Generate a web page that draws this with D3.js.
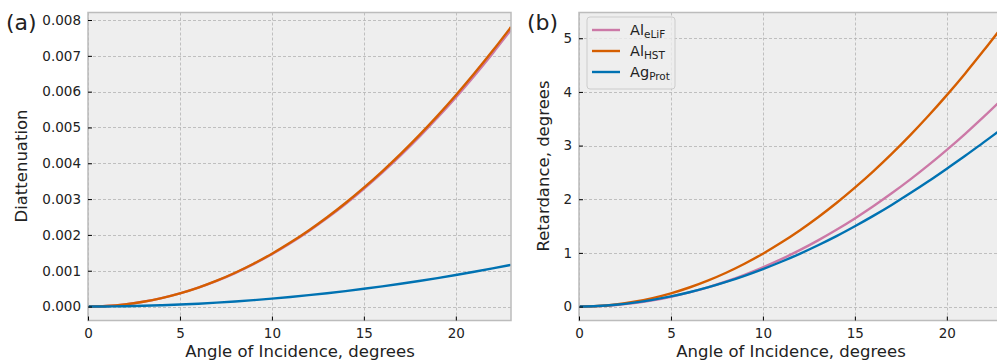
<!DOCTYPE html>
<html>
<head>
<meta charset="utf-8">
<script src="https://cdn.jsdelivr.net/npm/d3@7"></script>
<style>
  body { margin: 0; background: #fff; }
  text { font-family: "DejaVu Sans", sans-serif; fill: #222; }
</style>
</head>
<body>
<div id="chart"></div>
<script>
// angle of incidence, degrees
var angles = [0,1,2,3,4,5,6,7,8,9,10,11,12,13,14,15,16,17,18,19,20,21,22,23];

// (a) diattenuation
var diatEliF = [0,0.000015,0.000058,0.000132,0.000234,0.000365,0.000526,0.000716,0.000935,0.001183,0.00146,0.001767,0.002103,0.002468,0.002862,0.003286,0.003738,0.00422,0.004731,0.005272,0.005841,0.00644,0.007068,0.007725];
var diatHST  = [0,0.000015,0.000059,0.000133,0.000236,0.000369,0.000531,0.000723,0.000944,0.001195,0.001475,0.001785,0.002124,0.002493,0.002891,0.003319,0.003776,0.004263,0.004779,0.005325,0.0059,0.006505,0.007139,0.007803];
var diatProt = [0,0.0000022,0.0000088,0.0000198,0.0000352,0.000055,0.0000792,0.0001078,0.000141,0.000178,0.00022,0.000266,0.000317,0.000372,0.000431,0.000495,0.000563,0.000636,0.000713,0.000794,0.00088,0.00097,0.001065,0.001164];

// (b) retardance, degrees
var retEliF = [0,0.0073,0.029,0.066,0.117,0.183,0.263,0.358,0.467,0.591,0.73,0.883,1.051,1.234,1.431,1.643,1.869,2.11,2.365,2.635,2.92,3.219,3.533,3.862];
var retHST  = [0,0.0099,0.0394,0.0887,0.158,0.246,0.355,0.483,0.63,0.798,0.985,1.192,1.418,1.665,1.93,2.216,2.52,2.845,3.19,3.555,3.94,4.345,4.77,5.21];
var retProt = [0,0.0092,0.0339,0.0726,0.1247,0.1895,0.267,0.357,0.459,0.573,0.698,0.835,0.983,1.143,1.313,1.497,1.69,1.894,2.11,2.335,2.57,2.81,3.06,3.31];

var xTicks = [0,5,10,15,20];
var diatTicks = [0,0.001,0.002,0.003,0.004,0.005,0.006,0.007,0.008];
var retTicks = [0,1,2,3,4,5];

var names = ["eLiF","HST","Prot"];
var bases = ["Al","Al","Ag"];
var colors = ["#CC79A7","#D55E00","#0072B2"];

var W = 997, H = 362;
var svg = d3.select("#chart").append("svg").attr("width", W).attr("height", H);

function panel(opt) {
    var x = d3.scaleLinear().domain([0, 23]).range([opt.left, opt.left + 423]);
    var y = d3.scaleLinear().domain(opt.ydom).range([320.5, 12.5]);

    var clipId = "clip" + opt.tag;
    svg.append("clipPath").attr("id", clipId)
        .append("rect").attr("x", opt.left).attr("y", 12.5).attr("width", 423).attr("height", 308);

    svg.append("rect")
        .attr("x", opt.left).attr("y", 12.5).attr("width", 423).attr("height", 308)
        .attr("fill", "#eeeeee");

    // grid
    var g = svg.append("g").attr("clip-path", "url(#" + clipId + ")");
    g.selectAll(".vg").data(xTicks).enter().append("line")
        .attr("x1", function(d){ return Math.round(x(d)) + 0.5; })
        .attr("x2", function(d){ return Math.round(x(d)) + 0.5; })
        .attr("y1", 12.5).attr("y2", 320.5)
        .style("stroke", "#b2b2b2").style("stroke-dasharray", "3,2").style("stroke-width", 0.8);
    g.selectAll(".hg").data(opt.yticks).enter().append("line")
        .attr("y1", function(d){ return Math.round(y(d)) + 0.5; })
        .attr("y2", function(d){ return Math.round(y(d)) + 0.5; })
        .attr("x1", opt.left).attr("x2", opt.left + 423)
        .style("stroke", "#b2b2b2").style("stroke-dasharray", "3,2").style("stroke-width", 0.8);

    // lines
    var line = d3.line()
        .x(function(d, i){ return x(angles[i]); })
        .y(function(d){ return y(d); })
        .curve(d3.curveMonotoneX);
    opt.series.forEach(function(s, k) {
        g.append("path").attr("d", line(s))
            .style("fill", "none").style("stroke", colors[k]).style("stroke-width", 2.4);
    });

    // frame
    svg.append("rect")
        .attr("x", opt.left).attr("y", 12.5).attr("width", 423).attr("height", 308)
        .attr("fill", "none").style("stroke", "#bcbcbc").style("stroke-width", 1.5);

    // axes, ticks pointing in
    var xa = svg.append("g").attr("transform", "translate(0,320.5)")
        .call(d3.axisBottom(x).tickValues(xTicks).tickSizeInner(-4).tickSizeOuter(0).tickPadding(8));
    var ya = svg.append("g").attr("transform", "translate(" + opt.left + ",0)")
        .call(d3.axisLeft(y).tickValues(opt.yticks).tickFormat(opt.fmt).tickSizeInner(-4).tickSizeOuter(0).tickPadding(7));
    [xa, ya].forEach(function(a) {
        a.select(".domain").remove();
        a.selectAll("line").style("stroke", "#000");
        a.selectAll("text").style("font-size", "13.5px").style("fill", "#222");
    });

    svg.append("text")
        .attr("x", opt.left + 212).attr("y", 357)
        .attr("text-anchor", "middle").style("font-size", "16.5px")
        .text("Angle of Incidence, degrees");
    svg.append("text")
        .attr("transform", "translate(" + opt.ylabX + ",166) rotate(-90)")
        .attr("text-anchor", "middle").style("font-size", "16.5px")
        .text(opt.ylabel);
    svg.append("text")
        .attr("x", opt.tagX).attr("y", 30).style("font-size", "22px")
        .text("(" + opt.tag + ")");
}

panel({ tag: "a", left: 88, tagX: 6, ylabX: 27, ydom: [-0.00039, 0.00821],
        yticks: diatTicks, fmt: d3.format(".3f"), ylabel: "Diattenuation",
        series: [diatEliF, diatHST, diatProt] });
panel({ tag: "b", left: 579, tagX: 527, ylabX: 549, ydom: [-0.26, 5.48],
        yticks: retTicks, fmt: d3.format("d"), ylabel: "Retardance, degrees",
        series: [retEliF, retHST, retProt] });

// legend
var leg = svg.append("g").attr("transform", "translate(587,17)");
leg.append("rect").attr("width", 88).attr("height", 72).attr("rx", 3)
    .attr("fill", "#eeeeee").attr("fill-opacity", 0.8)
    .style("stroke", "#cccccc").style("stroke-width", 1);
names.forEach(function(n, i) {
    var yy = 13 + i * 21;
    leg.append("line").attr("x1", 5).attr("x2", 33).attr("y1", yy).attr("y2", yy)
        .style("stroke", colors[i]).style("stroke-width", 2.4);
    var t = leg.append("text").attr("x", 43).attr("y", yy + 5).style("font-size", "14.5px");
    t.append("tspan").text(bases[i]);
    t.append("tspan").attr("dy", 3).style("font-size", "10.5px").text(n);
});
</script>
</body>
</html>
